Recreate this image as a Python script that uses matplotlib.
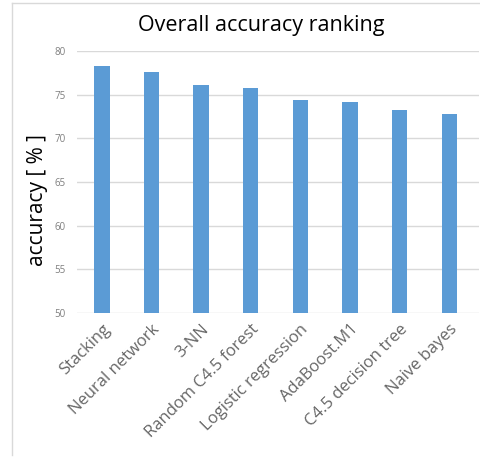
import matplotlib
matplotlib.use("Agg")
import matplotlib.pyplot as plt
from matplotlib.lines import Line2D

categories = ["Stacking", "Neural network", "3-NN", "Random C4.5 forest",
              "Logistic regression", "AdaBoost.M1", "C4.5 decision tree", "Naive bayes"]
accuracy = [78.3, 77.6, 76.1, 75.8, 74.4, 74.2, 73.2, 72.8]
yticks = [50, 55, 60, 65, 70, 75, 80]

plt.rcParams['font.family'] = ['Open Sans', 'DejaVu Sans']

W, H = 480, 457
fig = plt.figure(figsize=(W / 100, H / 100), dpi=100)
ax = fig.add_axes([77 / W, 1 - 313 / H, (479 - 77) / W, (313 - 51) / H])

x = list(range(len(categories)))
ax.bar(x, accuracy, width=0.31, color="#5b9bd5", zorder=3)
ax.set_xlim(-0.5, 7.6)
ax.set_ylim(50, 80)
ax.set_yticks(yticks)
ax.set_yticklabels([str(t) for t in yticks], fontsize=7, color="#7f7f7f")
ax.yaxis.grid(True, color="#d9d9d9", linewidth=1, zorder=0)
ax.set_xticks(x)
ax.set_xticklabels(categories, rotation=45, ha="right", rotation_mode="anchor",
                   fontsize=12, color="#666666")
ax.tick_params(axis="both", length=0)
ax.tick_params(axis="y", pad=8)
ax.tick_params(axis="x", pad=6)
for s in ax.spines.values():
    s.set_visible(False)

ax.set_ylabel("accuracy [ % ]", fontsize=15, color="#000000", labelpad=5, y=0.43)
fig.text(261 / W, 1 - 25 / H, "Overall accuracy ranking", fontsize=15.5,
         ha="center", va="center", color="#000000")

# chart border
fig.add_artist(Line2D([12 / W, 12 / W], [1 - 455 / H, 1 - 3 / H], transform=fig.transFigure,
                      color="#d9d9d9", linewidth=1))
fig.add_artist(Line2D([12 / W, 1], [1 - 3 / H, 1 - 3 / H], transform=fig.transFigure,
                      color="#d9d9d9", linewidth=1))

fig.savefig("out.png", dpi=100)
